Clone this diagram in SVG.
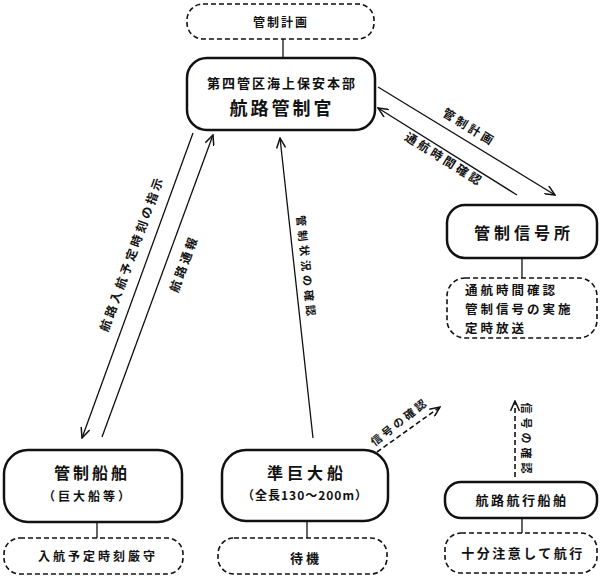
<svg xmlns="http://www.w3.org/2000/svg" width="600" height="577" viewBox="0 0 600 577">
<style>
text{font-family:"Noto Sans CJK JP","Noto Sans CJK SC",sans-serif;font-weight:bold;fill:#111;}
.box{fill:#fff;stroke:#111;stroke-width:2.5;}
.dbox{fill:#fff;stroke:#111;stroke-width:1.6;stroke-dasharray:5 3;}
.ln{stroke:#111;stroke-width:1.3;fill:none;}
.dl{stroke:#111;stroke-width:1.6;fill:none;stroke-dasharray:5 3;}
.c{text-anchor:middle;}
</style>
<defs>
<marker id="ah" viewBox="0 0 12 10" refX="11" refY="5" markerWidth="12" markerHeight="10" markerUnits="userSpaceOnUse" orient="auto">
<path d="M1,0.5 L11,5 L1,9.5" fill="none" stroke="#111" stroke-width="1.5"/>
</marker>
</defs>
<g id="connectors">
<line class="ln" x1="283" y1="39" x2="283" y2="58"/>
<line class="ln" x1="522" y1="258" x2="522" y2="278"/>
<line class="ln" x1="97" y1="522" x2="97" y2="538"/>
<line class="ln" x1="307" y1="521" x2="307" y2="538"/>
<line class="ln" x1="522" y1="518" x2="522" y2="533"/>
<line class="ln" x1="378" y1="87" x2="555" y2="195" marker-end="url(#ah)"/>
<line class="ln" x1="517" y1="195" x2="378" y2="108" marker-end="url(#ah)"/>
<line class="ln" x1="193" y1="133" x2="82" y2="438" marker-end="url(#ah)"/>
<line class="ln" x1="102" y1="437" x2="213" y2="135" marker-end="url(#ah)"/>
<line class="ln" x1="313" y1="438" x2="280" y2="138" marker-end="url(#ah)"/>
<line class="dl" x1="377" y1="452" x2="440" y2="407" marker-end="url(#ah)"/>
<line class="dl" x1="515" y1="477" x2="515" y2="401" marker-end="url(#ah)"/>
<text font-size="12" letter-spacing="3" class="c" transform="translate(467,131) rotate(31.5)">管制計画</text>
<text font-size="12" letter-spacing="3" class="c" transform="translate(442,163) rotate(32)">通航時間確認</text>
<text font-size="12" letter-spacing="3" class="c" transform="translate(136,255) rotate(-70)">航路入航予定時刻の指示</text>
<text font-size="12" letter-spacing="3" class="c" transform="translate(188,265) rotate(-70)">航路通報</text>
<text font-size="11" letter-spacing="4" class="c" transform="translate(302,268) rotate(84)">管制状況の確認</text>
<text font-size="11" letter-spacing="3" class="c" transform="translate(402,425) rotate(-38)">信号の確認</text>
<text font-size="11" letter-spacing="4" class="c" transform="translate(522,440) rotate(90)">信号の確認</text>
</g>
<g id="plan">
<rect class="dbox" x="187" y="4" width="187" height="35" rx="16"/>
<text font-size="12" letter-spacing="2" class="c" x="281" y="27">管制計画</text>
</g>
<g id="hq">
<rect class="box" x="187" y="58" width="188" height="72" rx="20"/>
<text font-size="13" letter-spacing="2" class="c" x="282" y="88">第四管区海上保安本部</text>
<text font-size="18" letter-spacing="3" class="c" x="282" y="115">航路管制官</text>
</g>
<g id="station">
<rect class="box" x="447" y="205" width="150" height="53" rx="18"/>
<text font-size="16" letter-spacing="4" class="c" x="524" y="239">管制信号所</text>
</g>
<g id="station-notes">
<rect class="dbox" x="447" y="278" width="150" height="60" rx="18"/>
<text font-size="12.5" letter-spacing="3" x="465" y="295">通航時間確認</text>
<text font-size="12.5" letter-spacing="3" x="465" y="314">管制信号の実施</text>
<text font-size="12.5" letter-spacing="3" x="465" y="333">定時放送</text>
</g>
<g id="controlled">
<rect class="box" x="4" y="450" width="178" height="72" rx="24"/>
<text font-size="16" letter-spacing="3" class="c" x="92" y="479">管制船舶</text>
<text font-size="12" letter-spacing="3" class="c" x="88" y="501">（巨大船等）</text>
</g>
<g id="controlled-note">
<rect class="dbox" x="4" y="538" width="179" height="36" rx="16"/>
<text font-size="12" letter-spacing="3" class="c" x="98" y="561">入航予定時刻厳守</text>
</g>
<g id="semi">
<rect class="box" x="222" y="450" width="166" height="71" rx="24"/>
<text font-size="16" letter-spacing="4" class="c" x="307" y="479">準巨大船</text>
<text font-size="12" letter-spacing="1" class="c" x="305" y="500">（全長130～200m）</text>
</g>
<g id="semi-note">
<rect class="dbox" x="218" y="538" width="169" height="36" rx="16"/>
<text font-size="13" letter-spacing="3" class="c" x="306" y="563">待機</text>
</g>
<g id="other">
<rect class="box" x="445" y="482" width="152" height="36" rx="16"/>
<text font-size="13" letter-spacing="2.5" class="c" x="522" y="505">航路航行船舶</text>
</g>
<g id="other-note">
<rect class="dbox" x="445" y="533" width="152" height="40" rx="16"/>
<text font-size="13" letter-spacing="2.5" class="c" x="523" y="558">十分注意して航行</text>
</g>
</svg>
